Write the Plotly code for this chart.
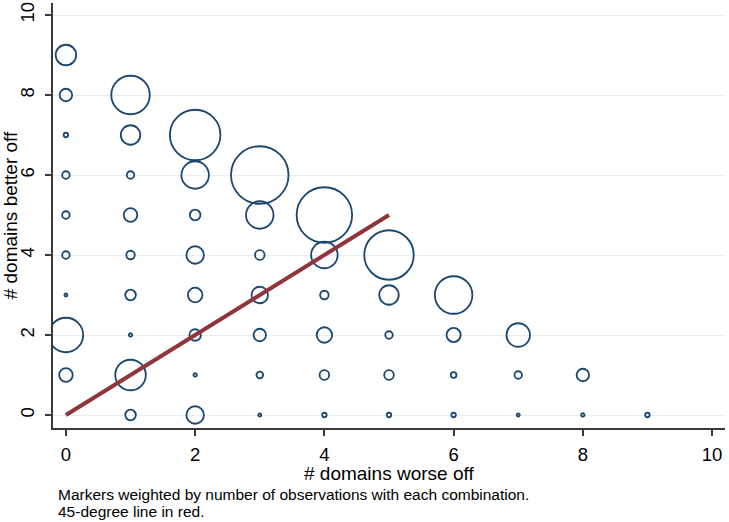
import plotly.graph_objects as go

# combinations of domains worse off / better off, with number of observations
worse_off = [0, 0, 0, 0, 0, 0, 0, 0, 0,
             1, 1, 1, 1, 1, 1, 1, 1, 1,
             2, 2, 2, 2, 2, 2, 2, 2,
             3, 3, 3, 3, 3, 3, 3,
             4, 4, 4, 4, 4, 4,
             5, 5, 5, 5, 5,
             6, 6, 6, 6,
             7, 7, 7,
             8, 8,
             9]
better_off = [1, 2, 3, 4, 5, 6, 7, 8, 9,
              0, 1, 2, 3, 4, 5, 6, 7, 8,
              0, 1, 2, 3, 4, 5, 6, 7,
              0, 1, 2, 3, 4, 5, 6,
              0, 1, 2, 3, 4, 5,
              0, 1, 2, 3, 4,
              0, 1, 2, 3,
              0, 1, 2,
              0, 1,
              0]
n_obs = [46, 298, 2, 14, 14, 14, 5, 39, 105,
         28, 233, 3, 28, 18, 46, 14, 95, 371,
         77, 3, 33, 53, 77, 28, 189, 638,
         1, 11, 39, 68, 23, 189, 827,
         5, 23, 60, 18, 176, 770,
         5, 23, 14, 95, 613,
         5, 8, 50, 352,
         2, 14, 138,
         3, 39,
         5]

diag_x = [0, 5]
diag_y = [0, 5]

x_ticks = [0, 2, 4, 6, 8, 10]
y_ticks = [0, 2, 4, 6, 8, 10]

note_lines = ["Markers weighted by number of observations with each combination.",
              "45-degree line in red."]

navy = "#1a476f"
maroon = "#90353b"
axis_col = "#3a3a3a"
font_family = "Liberation Sans, Arial, sans-serif"

fig = go.Figure()

fig.add_trace(go.Scatter(
    x=worse_off, y=better_off,
    mode="markers",
    marker=dict(
        size=n_obs,
        sizemode="area",
        sizeref=0.5,
        sizemin=1.5,
        opacity=1,
        color="rgba(0,0,0,0)",
        line=dict(color=navy, width=1.8),
    ),
    showlegend=False,
))

fig.add_trace(go.Scatter(
    x=diag_x, y=diag_y,
    mode="lines",
    line=dict(color=maroon, width=4),
    showlegend=False,
))

# x axis title placed by hand, close under the tick labels
fig.add_annotation(
    text="# domains worse off",
    xref="paper", yref="paper",
    x=0.5, y=-0.106,
    xanchor="center", yanchor="middle",
    borderpad=0,
    showarrow=False,
    font=dict(size=19, family=font_family, color="black"),
)

# note below the plot, one annotation per line to keep the spacing tight
for i, line in enumerate(note_lines):
    fig.add_annotation(
        text=line,
        xref="paper", yref="paper",
        x=0.006, y=-0.1575 - i * 0.04,
        xanchor="left", yanchor="middle",
        borderpad=0,
        showarrow=False,
        font=dict(size=15.5, family=font_family, color="black"),
    )

fig.update_layout(
    width=729, height=522,
    margin=dict(l=53, r=4, t=3, b=94),
    paper_bgcolor="white",
    plot_bgcolor="white",
    font=dict(family=font_family, color="black"),
)

fig.update_xaxes(
    range=[-0.2, 10.2],
    tickvals=x_ticks,
    automargin=False,
    showgrid=False, zeroline=False,
    showline=True, linecolor=axis_col, linewidth=1.5,
    ticks="outside", ticklen=6, tickwidth=1.5, tickcolor=axis_col,
    tickfont=dict(size=18.5),
    ticklabelstandoff=3,
)

fig.update_yaxes(
    range=[-0.325, 10.3],
    tickvals=y_ticks,
    tickangle=-90,
    automargin=False,
    showgrid=True, gridcolor="#e9eff1", gridwidth=1.2,
    zeroline=False,
    showline=True, linecolor=axis_col, linewidth=1.5,
    ticks="outside", ticklen=6, tickwidth=1.5, tickcolor=axis_col,
    tickfont=dict(size=18.5),
    ticklabelstandoff=4,
    title=dict(text="# domains better off", font=dict(size=19), standoff=5),
)

fig.write_html("out.html", config={"displayModeBar": False},
               post_script="document.body.style.margin = '0';")
